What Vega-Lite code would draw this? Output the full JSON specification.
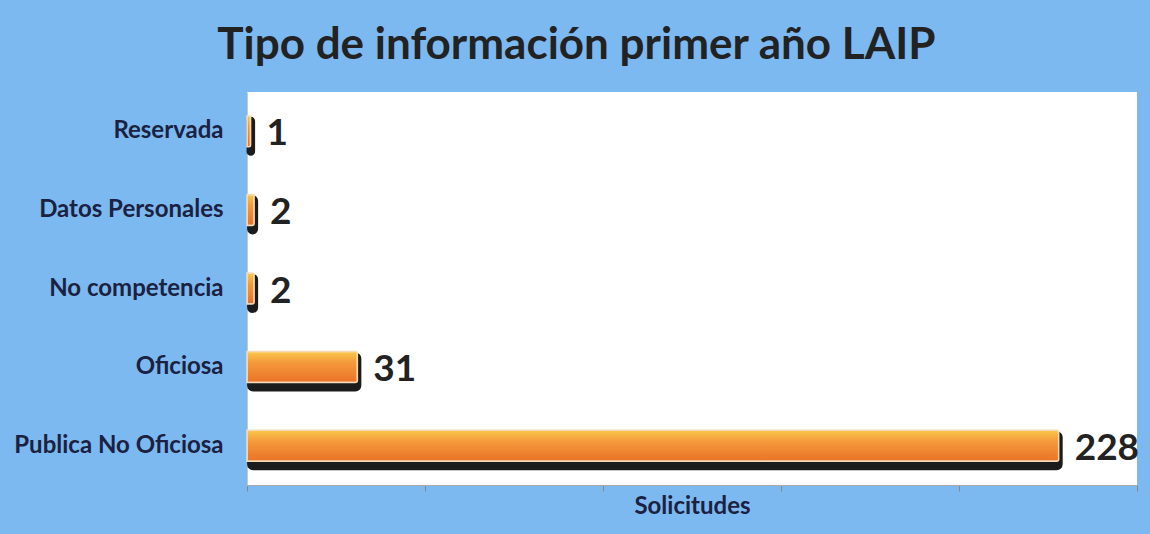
{
  "$schema": "https://vega.github.io/schema/vega-lite/v6.json",
  "width": 890,
  "height": 393,
  "autosize": {"type": "none"},
  "padding": {"left": 247, "top": 92, "right": 13, "bottom": 49},
  "background": "#7cb9f0",
  "view": {"fill": "white", "stroke": null},
  "title": {
    "text": "Tipo de información primer año LAIP",
    "font": "Lato",
    "fontWeight": "bold",
    "fontSize": 44,
    "color": "#222222",
    "anchor": "middle",
    "frame": "bounds",
    "baseline": "alphabetic",
    "offset": -11
  },
  "data": {
    "values": [
      {"tipo": "Reservada", "solicitudes": 1},
      {"tipo": "Datos Personales", "solicitudes": 2},
      {"tipo": "No competencia", "solicitudes": 2},
      {"tipo": "Oficiosa", "solicitudes": 31},
      {"tipo": "Publica No Oficiosa", "solicitudes": 228}
    ]
  },
  "encoding": {
    "y": {
      "field": "tipo",
      "type": "nominal",
      "sort": null,
      "axis": {
        "title": null,
        "ticks": false,
        "domain": true,
        "domainColor": "#c8c8c8",
        "labelPadding": 24,
        "labelLimit": 400,
        "labelFont": "Lato",
        "labelFontWeight": "bold",
        "labelFontSize": 24,
        "labelColor": "#1b2140"
      }
    },
    "x": {
      "field": "solicitudes",
      "type": "quantitative",
      "scale": {"domain": [0, 250]},
      "axis": {
        "title": "Solicitudes",
        "labels": false,
        "grid": false,
        "values": [0, 50, 100, 150, 200, 250],
        "tickSize": 6,
        "tickColor": "#888888",
        "domainColor": "#aaaaaa",
        "titleFont": "Lato",
        "titleFontWeight": "bold",
        "titleFontSize": 24,
        "titleColor": "#1b2140",
        "titlePadding": 3
      }
    }
  },
  "layer": [
    {
      "mark": {
        "type": "bar",
        "height": 31,
        "yOffset": 5,
        "color": "#1c1c1c",
        "stroke": "#1c1c1c",
        "strokeWidth": 8,
        "strokeJoin": "round",
        "cornerRadius": 2
      },
      "encoding": {"x2": {"datum": 1.15}}
    },
    {
      "mark": {
        "type": "bar",
        "height": 31,
        "cornerRadiusEnd": 2,
        "stroke": "#f6d9b8",
        "strokeWidth": 1.5,
        "color": {
          "gradient": "linear",
          "x1": 0, "y1": 0, "x2": 0, "y2": 1,
          "stops": [
            {"offset": 0, "color": "#f9c94a"},
            {"offset": 0.35, "color": "#f59a3c"},
            {"offset": 1, "color": "#ea7227"}
          ]
        }
      }
    },
    {
      "mark": {
        "type": "text",
        "align": "left",
        "baseline": "middle",
        "dx": 16,
        "dy": 3,
        "font": "Lato",
        "fontWeight": "bold",
        "fontSize": 37,
        "color": "#222222"
      },
      "encoding": {"text": {"field": "solicitudes", "type": "quantitative"}}
    }
  ]
}
